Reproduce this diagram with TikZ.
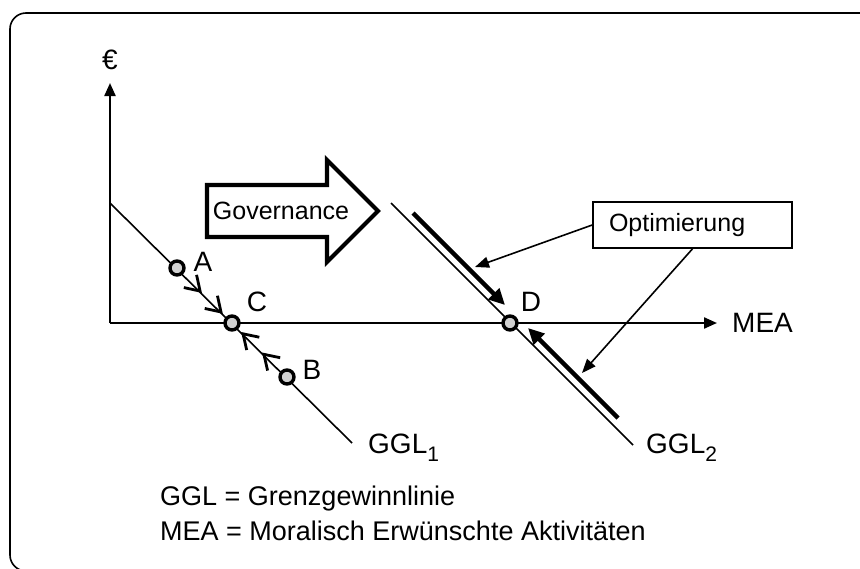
\documentclass[tikz,border=0pt]{standalone}
\usepackage{fontspec}
\setmainfont{Liberation Sans}
\usetikzlibrary{arrows.meta,decorations.markings}
\newcommand{\lowsub}[1]{\raisebox{-8pt}{\fontsize{21}{21}\selectfont #1}}
\begin{document}
\begin{tikzpicture}[x=1pt,y=-1pt,
  thinline/.style={line width=1.6pt},
  axisline/.style={line width=2.2pt,-{Triangle[length=13pt,width=11pt]}},
  ptnode/.style={circle,draw,line width=3.4pt,fill=black!18,inner sep=0pt,minimum size=14pt},
  lbl/.style={font=\fontsize{28}{32}\selectfont,inner sep=0pt},
  boxtext/.style={font=\fontsize{25}{30}\selectfont},
  legtext/.style={font=\fontsize{27}{32}\selectfont,inner sep=0pt},
  thickarrow/.style={line width=4.5pt,-{Triangle[length=16pt,width=15pt]}},
  pointer/.style={line width=1.6pt,-{Triangle[length=14pt,width=11pt]}},
  chevrons/.style={decoration={markings,
     mark=at position 0.42 with {\draw[line width=2.8pt,line join=miter] (-14pt,-9pt) -- (0pt,0pt) -- (-14pt,9pt);},
     mark=at position 0.80 with {\draw[line width=2.8pt,line join=miter] (-14pt,-9pt) -- (0pt,0pt) -- (-14pt,9pt);}},decorate},
  govarrow/.style={line width=4.2pt,line join=miter}
]
\clip (0,0) rectangle (860,568);
\useasboundingbox (0,0) rectangle (860,568);
\fill[white] (0,0) rectangle (860,568);
% frame
\draw[line width=1.6pt,rounded corners=16pt] (10,13) rectangle (885,571);

% axes
\coordinate (O) at (110,323);
\coordinate (ytip) at (110,83);
\coordinate (xtip) at (717,323);
\draw[axisline] (O) -- (ytip);
\draw[axisline] (O) -- (xtip);
\node[lbl] (euro) at (110,60) {€};
\node[lbl,anchor=west] (mea) at (732,323) {MEA};

% GGL lines
\coordinate (g1s) at (110,203);
\coordinate (g1e) at (352,443);
\coordinate (g2s) at (391,203);
\coordinate (g2e) at (633,445);
\draw[thinline] (g1s) -- (g1e);
\draw[thinline] (g2s) -- (g2e);
\node[lbl,anchor=base west] (ggl1) at (368,453) {GGL\lowsub{1}};
\node[lbl,anchor=base west] (ggl2) at (646,453) {GGL\lowsub{2}};

% small arrows towards C
\path[chevrons] (177,268) -- (232,323);
\path[chevrons] (287,377) -- (232,323);

% points
\node[ptnode] (A) at (177,268) {};
\node[ptnode] (C) at (232,323) {};
\node[ptnode] (B) at (287,377) {};
\node[ptnode] (D) at (510,323) {};
\node[lbl] (lA) at (203,262) {A};
\node[lbl] (lC) at (257,302) {C};
\node[lbl] (lB) at (312,370) {B};
\node[lbl] (lD) at (531,302) {D};

% Governance arrow
\draw[govarrow] (207,185) -- (327,185) -- (327,160) -- (378,211) -- (327,262) -- (327,237) -- (207,237) -- cycle;
\node[boxtext,inner sep=0pt] (gov) at (281,211) {Governance};

% thick arrows to D
\coordinate (u1) at (413,213);
\coordinate (u2) at (505,305);
\coordinate (l1) at (618,418);
\coordinate (l2) at (528,328);
\draw[thickarrow] (u1) -- (u2);
\draw[thickarrow] (l1) -- (l2);

% Optimierung box
\node[boxtext,draw,line width=1.6pt,minimum width=199pt,minimum height=46pt,
      inner xsep=16pt,text width=167pt,align=left] (opt) at (692.5,225) {Optimierung};
\coordinate (p1) at (475,267);
\coordinate (p2) at (582,373);
\draw[pointer] (opt.west) -- (p1);
\draw[pointer] (opt.south) -- (p2);

% legend
\node[legtext,anchor=base west] (leg1) at (160,505) {GGL = Grenzgewinnlinie};
\node[legtext,anchor=base west] (leg2) at (160,540) {MEA = Moralisch Erwünschte Aktivitäten};
\end{tikzpicture}
\end{document}
